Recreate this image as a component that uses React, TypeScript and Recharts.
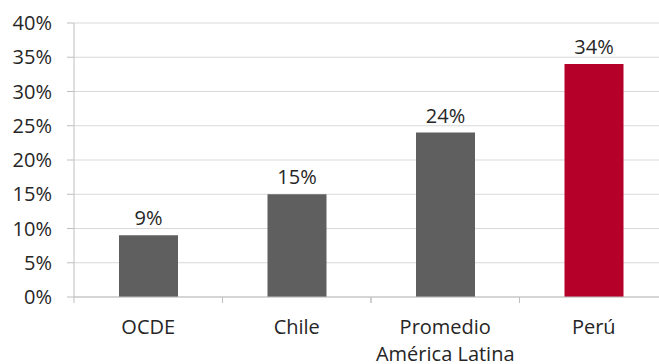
import { ComposedChart, Bar, XAxis, YAxis, CartesianGrid, LabelList, Cell } from "recharts";

const categories = ["OCDE", "Chile", "Promedio\nAmérica Latina", "Perú"];
const values = [9, 15, 24, 34];
const barColors = ["#5f5f5f", "#5f5f5f", "#5f5f5f", "#b5002a"];
const yTicks = [0, 5, 10, 15, 20, 25, 30, 35, 40];

const data = categories.map((name, i) => ({ name, value: values[i] }));

const FONT = "'Open Sans', sans-serif";
const FS = 20;

// Excel style: tick marks sit between categories, labels centered under bars
function CategoryTick(props: any) {
  const { x, y, payload, width } = props;
  const half = width / categories.length / 2;
  const lines = String(payload.value).split("\n");
  return (
    <g>
      <line x1={x - half} x2={x - half} y1={y - 6} y2={y} stroke="#bfbfbf" strokeWidth={1} />
      <line x1={x + half} x2={x + half} y1={y - 6} y2={y} stroke="#bfbfbf" strokeWidth={1} />
      <text x={x} y={y} textAnchor="middle" fill="#262626" fontSize={FS} fontFamily={FONT}>
        {lines.map((l, i) => (
          <tspan key={i} x={x} dy={i === 0 ? 31 : 27}>
            {l}
          </tspan>
        ))}
      </text>
    </g>
  );
}

export default function App() {
  return (
    <div style={{ position: "absolute", left: 0, top: 0, width: 659, height: 364, overflow: "hidden", background: "#fff" }}>
      <ComposedChart
        width={668}
        height={364}
        data={data}
        margin={{ top: 23, right: 0, bottom: 0, left: 0 }}
        barCategoryGap={0}
      >
        <CartesianGrid vertical={false} stroke="#d9d9d9" />
        <XAxis
          dataKey="name"
          height={67}
          axisLine={{ stroke: "#bfbfbf" }}
          tickLine={false}
          tickSize={6}
          tickMargin={0}
          interval={0}
          tick={<CategoryTick />}
        />
        <YAxis
          domain={[0, 40]}
          ticks={yTicks}
          width={74}
          tickSize={7}
          tickMargin={15}
          axisLine={{ stroke: "#bfbfbf" }}
          tickLine={{ stroke: "#bfbfbf" }}
          tickFormatter={(v: number) => `${v}%`}
          tick={{ fill: "#262626", fontSize: FS, fontFamily: FONT }}
        />
        <Bar dataKey="value" barSize={59} isAnimationActive={false}>
          {data.map((d, i) => (
            <Cell key={d.name} fill={barColors[i]} />
          ))}
          <LabelList
            dataKey="value"
            position="top"
            offset={10}
            formatter={(v: any) => `${v}%`}
            style={{ fill: "#262626", fontSize: FS, fontFamily: FONT }}
          />
        </Bar>
      </ComposedChart>
    </div>
  );
}
